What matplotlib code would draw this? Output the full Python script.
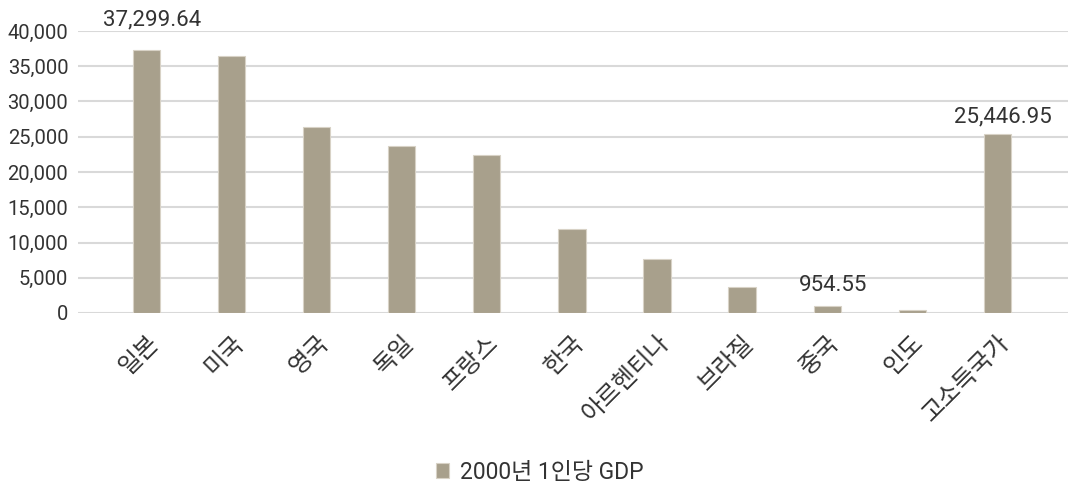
import matplotlib
matplotlib.use("Agg")
import matplotlib.pyplot as plt
from matplotlib.ticker import FuncFormatter, MultipleLocator

plt.rcParams['font.family'] = ['Roboto', 'Noto Sans CJK KR', 'DejaVu Sans']

categories = ['일본', '미국', '영국', '독일', '프랑스', '한국', '아르헨티나', '브라질', '중국', '인도', '고소득국가']
gdp_2000 = [37299.64, 36450, 26400, 23700, 22420, 11950, 7680, 3700, 954.55, 440, 25446.95]
series_name = '2000년 1인당 GDP'
labeled = {0: '37,299.64', 8: '954.55', 10: '25,446.95'}
label_offsets = {0: 18, 8: 11, 10: 8}

bar_color = '#A8A08C'
text_color = '#333333'

fig = plt.figure(figsize=(10.79, 4.86), dpi=100)
ax = fig.add_axes([78/1079, 1 - 313/486, (1068-78)/1079, (313-31)/486])

x = list(range(len(categories)))
bars = ax.bar(x, gdp_2000, width=0.32, color=bar_color, edgecolor='#D8D2C6', linewidth=0.8,
              label=series_name, zorder=3)

for i, txt in labeled.items():
    ax.annotate(txt, (i, gdp_2000[i]), xytext=(4, label_offsets[i]), textcoords='offset points',
                ha='center', va='baseline', fontsize=16, color=text_color)

ax.set_ylim(0, 40000)
ax.set_xlim(-0.805, 10.83)
ax.yaxis.set_major_locator(MultipleLocator(5000))
ax.yaxis.set_major_formatter(FuncFormatter(lambda v, p: f'{int(v):,}'))
ax.grid(axis='y', color='#D9D9D9', linewidth=1.5, zorder=0)
ax.set_axisbelow(True)
for s in ax.spines.values():
    s.set_visible(False)
ax.tick_params(axis='both', length=0, colors=text_color)
ax.tick_params(axis='y', pad=7, labelsize=14.5)
ax.set_xticks(x)
ax.set_xticklabels(categories, rotation=45, ha='right', rotation_mode='anchor', fontsize=17.5,
                   fontweight='light')
ax.tick_params(axis='x', pad=13)

leg = fig.legend(handles=[bars], labels=[series_name], loc='center', bbox_to_anchor=(0.5, 1 - 472/486),
                 frameon=False, fontsize=16.5, handlelength=0.6, handleheight=0.6, handletextpad=0.45)
for t in leg.get_texts():
    t.set_color(text_color)

fig.savefig('out.png', dpi=100)
